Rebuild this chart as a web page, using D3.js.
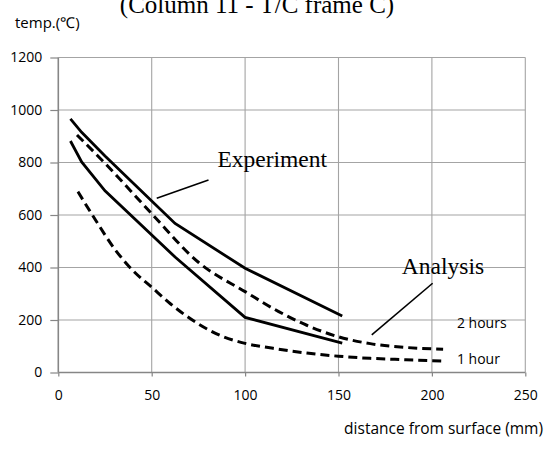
<!DOCTYPE html>
<html>
<head>
<meta charset="utf-8">
<script src="https://cdn.jsdelivr.net/npm/d3@7"></script>
<style>
  html, body { margin: 0; padding: 0; background: #fff; }
  svg { display: block; }
</style>
</head>
<body>
<svg id="chart" width="556" height="453"></svg>
<script>
// ---- data ----
const xTicks = [0, 50, 100, 150, 200, 250];
const yTicks = [0, 200, 400, 600, 800, 1000, 1200];

const expUpperX = [6.5, 12.5, 25, 62.5, 100, 152];
const expUpperY = [966, 915, 825, 568, 397, 215];

const expLowerX = [6.5, 12.5, 25, 62.5, 100, 152];
const expLowerY = [882, 802, 692, 440, 210, 112];

const ana2hX = [10, 25, 50, 75, 100, 118, 133, 150, 167, 185, 206];
const ana2hY = [905, 797, 605, 420, 308, 232, 180, 136, 110, 96, 89];

const ana1hX = [10.5, 20, 30, 40, 50, 60, 75, 87, 100, 115, 133, 150, 167, 185, 205];
const ana1hY = [689, 580, 472, 388, 325, 262, 185, 140, 111, 92, 74, 62, 54, 49, 44];

const titleText = "(Column 11 - T/C frame C)";
const yAxisTitle = "temp.(\u2103)";
const xAxisTitle = "distance from surface (mm)";
const annExperiment = { text: "Experiment", x: 85.2, y: 782, lx1: 52.7, ly1: 664, lx2: 80.4, ly2: 733 };
const annAnalysis = { text: "Analysis", x: 183.9, y: 375, lx1: 167.8, ly1: 143, lx2: 200.4, ly2: 340 };
const seriesLabels = [{ text: "2 hours", x: 213.4, y: 190 }, { text: "1 hour", x: 213.4, y: 50 }];

// ---- chart ----
const svg = d3.select("#chart");
const x = d3.scaleLinear().domain([0, 250]).range([58.3, 525.3]);
const y = d3.scaleLinear().domain([0, 1200]).range([372.5, 57.5]);

const sans = "'Open Sans', 'Liberation Sans', sans-serif";
const serif = "'Liberation Serif', 'Times New Roman', serif";

// grid
const grid = svg.append("g");
grid.selectAll("line.h").data(yTicks.filter(d => d > 0)).join("line")
  .attr("x1", x(0)).attr("x2", x(250))
  .attr("y1", d => y(d)).attr("y2", d => y(d))
  .attr("stroke", "#a4a4a4").attr("stroke-width", 1.1);
grid.selectAll("line.v").data(xTicks.filter(d => d > 0)).join("line")
  .attr("x1", d => x(d)).attr("x2", d => x(d))
  .attr("y1", y(0)).attr("y2", y(1200))
  .attr("stroke", "#a4a4a4").attr("stroke-width", 1.1);

// axes
const yAxis = d3.axisLeft(y).tickValues(yTicks).tickSize(8).tickPadding(8).tickFormat(d3.format("d"));
const gy = svg.append("g").attr("transform", `translate(${x(0)},0)`).call(yAxis);
const xAxis = d3.axisBottom(x).tickValues(xTicks).tickSize(4).tickPadding(14).tickFormat(d3.format("d"));
const gx = svg.append("g").attr("transform", `translate(0,${y(0)})`).call(xAxis);
[gx, gy].forEach(g => {
  g.select(".domain").attr("stroke", "#868686").attr("stroke-width", 1.6);
  g.selectAll(".tick line").attr("stroke", "#868686").attr("stroke-width", 1.2);
  g.selectAll(".tick text").attr("font-family", sans).attr("font-size", 14).attr("fill", "#000");
});
gy.select(".domain").attr("d", `M0,${y(1200)}V${y(0)}`);
gx.select(".domain").attr("d", `M${x(0)},0H${x(250)}`);

// series
const line = d3.line().x(d => x(d[0])).y(d => y(d[1]));
const smooth = d3.line().x(d => x(d[0])).y(d => y(d[1])).curve(d3.curveMonotoneX);
const zip = (a, b) => a.map((v, i) => [v, b[i]]);

svg.append("path").datum(zip(expUpperX, expUpperY)).attr("d", line)
  .attr("fill", "none").attr("stroke", "#000").attr("stroke-width", 2.8);
svg.append("path").datum(zip(expLowerX, expLowerY)).attr("d", line)
  .attr("fill", "none").attr("stroke", "#000").attr("stroke-width", 2.8);
svg.append("path").datum(zip(ana2hX, ana2hY)).attr("d", smooth)
  .attr("fill", "none").attr("stroke", "#000").attr("stroke-width", 3)
  .attr("stroke-dasharray", "9,5");
svg.append("path").datum(zip(ana1hX, ana1hY)).attr("d", smooth)
  .attr("fill", "none").attr("stroke", "#000").attr("stroke-width", 3)
  .attr("stroke-dasharray", "9,5");

// annotations
[annExperiment, annAnalysis].forEach(a => {
  svg.append("line")
    .attr("x1", x(a.lx1)).attr("y1", y(a.ly1)).attr("x2", x(a.lx2)).attr("y2", y(a.ly2))
    .attr("stroke", "#000").attr("stroke-width", 1.6);
  svg.append("text").attr("x", x(a.x)).attr("y", y(a.y))
    .attr("font-family", serif).attr("font-size", 23.5).attr("fill", "#000").text(a.text);
});
seriesLabels.forEach(s => {
  svg.append("text").attr("x", x(s.x)).attr("y", y(s.y)).attr("dy", "0.35em")
    .attr("font-family", sans).attr("font-size", 14).attr("fill", "#000").text(s.text);
});

// titles (title is partly cut at the top edge, as in the reference)
svg.append("text").attr("x", 257).attr("y", 12.5).attr("text-anchor", "middle")
  .attr("font-family", serif).attr("font-size", 25).attr("fill", "#000").text(titleText);
svg.append("text").attr("x", 15).attr("y", 27.5)
  .attr("font-family", sans).attr("font-size", 15).attr("fill", "#000").text(yAxisTitle);
svg.append("text").attr("x", 543).attr("y", 434).attr("text-anchor", "end")
  .attr("font-family", sans).attr("font-size", 15.5).attr("fill", "#000").text(xAxisTitle);
</script>
</body>
</html>
